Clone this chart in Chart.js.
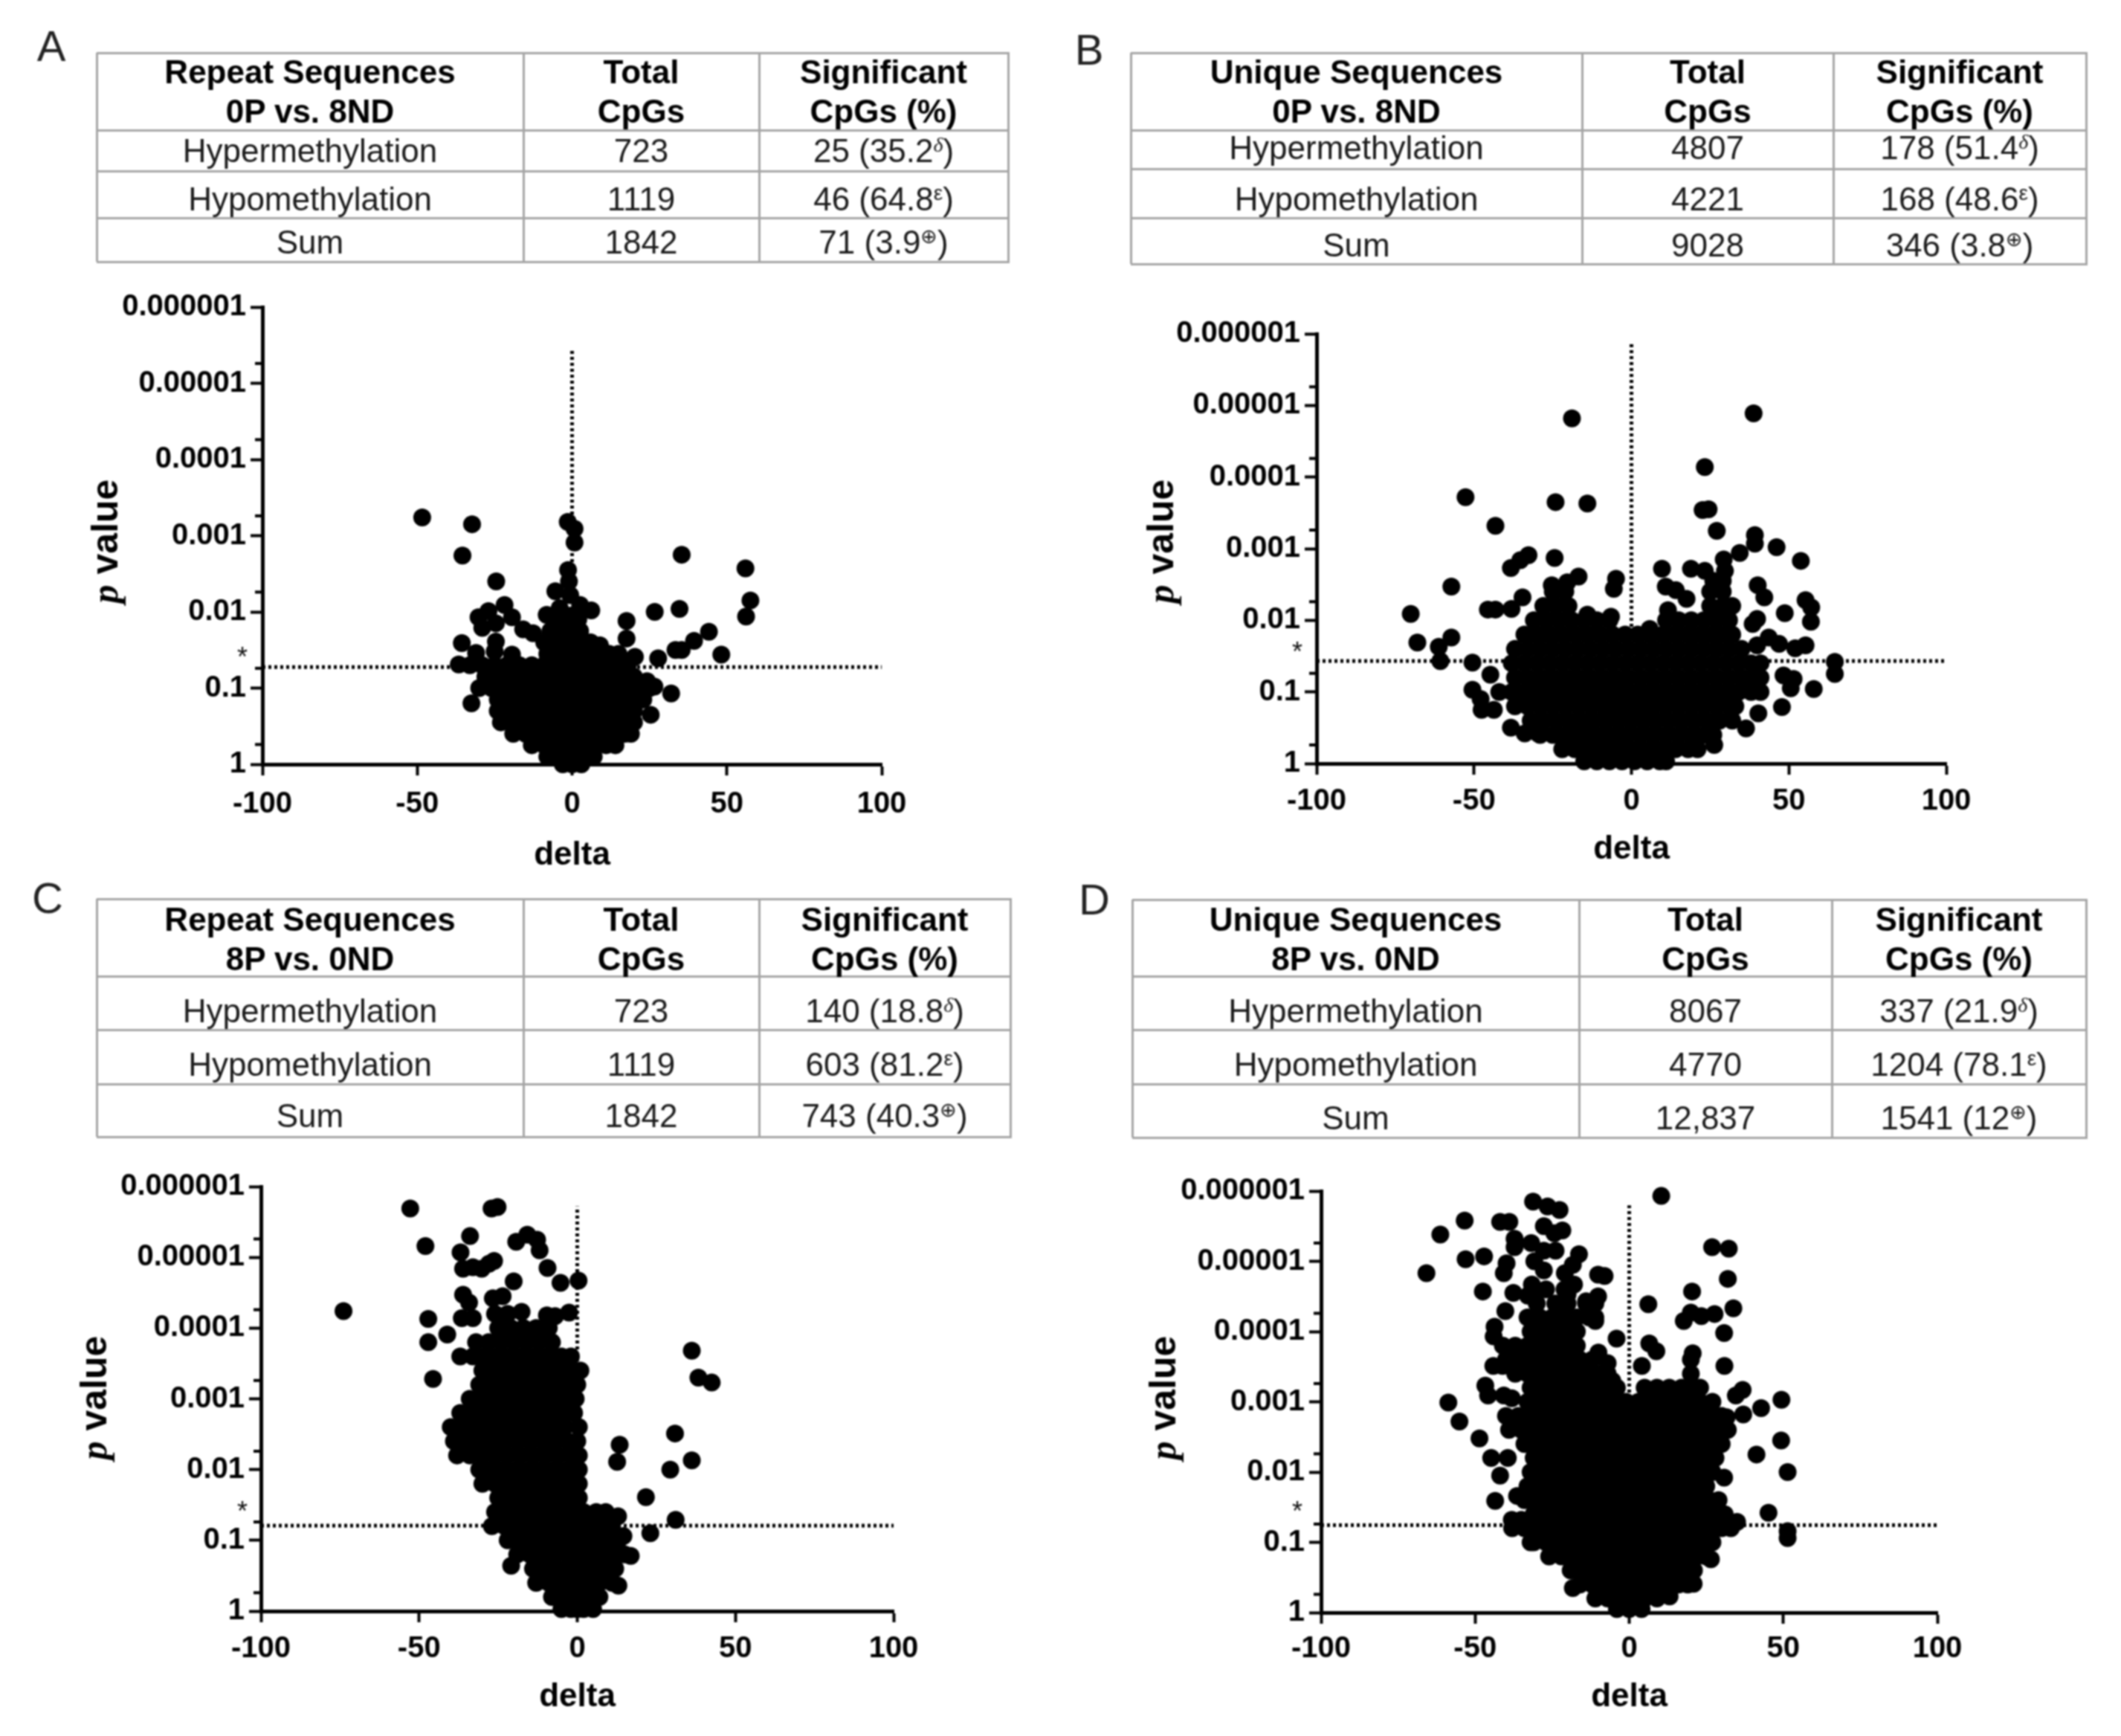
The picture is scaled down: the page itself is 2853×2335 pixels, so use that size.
<!DOCTYPE html>
<html><head><meta charset="utf-8">
<style>
html,body{margin:0;padding:0;background:#fff;width:2853px;height:2335px;overflow:hidden}
#page{position:absolute;left:0;top:0;width:2853px;height:2335px;filter:blur(1.3px);font-family:"Liberation Sans",Arial,sans-serif;color:#1a1a1a}
#page canvas{position:absolute}
.t{position:absolute;white-space:nowrap;transform:translate(-50%,-50%);line-height:1}
.r{position:absolute;background:#a5a5a5}
.b{font-weight:bold;color:#000}
sup{font-size:28px;line-height:0;vertical-align:baseline;position:relative;top:-14px}
.ser{font-family:"Liberation Serif",serif;font-style:italic}
.opl{font-family:"DejaVu Sans",sans-serif;font-size:27px}
</style></head><body><div id="page"></div>
<script src="https://cdn.jsdelivr.net/npm/chart.js@4"></script>
<script>
// ---------- tick labels ----------
const xTicks=[-100,-50,0,50,100];
const pTicks=[1,0.1,0.01,0.001,0.0001,0.00001,0.000001];
const pTickLabels=['1','0.1','0.01','0.001','0.0001','0.00001','0.000001'];
const pMinorTicks=[0.55,0.055,0.0055,0.00055,0.000055,0.0000055];
// ---------- table text ----------
const rowNames=['Hypermethylation','Hypomethylation','Sum'];
const colTotal=['Total','CpGs'];
const colSig=['Significant','CpGs (%)'];
const marks=['δ','ε','⊕'];
const A_head=['Repeat Sequences','0P vs. 8ND'];
const A_total=['723','1119','1842'];
const A_sig=['25 (35.2','46 (64.8','71 (3.9'];
const B_head=['Unique Sequences','0P vs. 8ND'];
const B_total=['4807','4221','9028'];
const B_sig=['178 (51.4','168 (48.6','346 (3.8'];
const C_head=['Repeat Sequences','8P vs. 0ND'];
const C_total=['723','1119','1842'];
const C_sig=['140 (18.8','603 (81.2','743 (40.3'];
const D_head=['Unique Sequences','8P vs. 0ND'];
const D_total=['8067','4770','12,837'];
const D_sig=['337 (21.9','1204 (78.1','1541 (12'];
// ---------- significance cut and vertical guide top (p values) ----------
const A_cut=0.053, A_guideTop=0.0000035;
const B_cut=0.037, B_guideTop=0.0000013;
const C_cut=0.062, C_guideTop=0.0000019;
const D_cut=0.057, D_guideTop=0.0000016;
// ---------- points: [delta, -log10 p] ----------
const A_points=[[-48.4,3.24],[-32.3,3.15],[-35.4,2.74],[-24.5,2.4],[-1.4,3.18],[0.8,3.09],[0.8,2.91],[35.4,2.75],[56,2.57],[57.6,2.15],[56.2,1.94],[26.7,2],[34.7,2.04],[44.2,1.74],[39.4,1.62],[33.4,1.5],[35.4,1.5],[27.8,1.39],[48.2,1.44],[32,0.93],[25.4,0.65],[-32.5,0.8],[-21.8,2.09],[-30.2,1.93],[-27,2.01],[-29,1.79],[-19.4,1.93],[-24.6,1.85],[-35.6,1.59],[-24.6,1.61],[-25,1.48],[-31,1.46],[-36.6,1.31],[-19.4,1.44],[-15.8,1.77],[-12.6,1.72],[-8.2,1.96],[-5.4,2.27],[-1.3,2.55],[-1,2.4],[-0.6,2.22],[6.2,2.02],[2.6,2.09],[2.6,1.75],[9,1.56],[17.6,1.88],[17.6,1.65],[20.3,1.41],[24.2,1.09],[26.6,1.02],[-4,2.05],[-1,1.95]];
const A_rows=[
[0,-3,0,3],
[0.1,-8,-4,0,4,7],
[0.25,-13,-9,-5,-1,3,7,11,14],
[0.4,-19,-15,-11,-7,-3,1,5,9,13,17,19],
[0.55,-23,-19,-15,-11,-7,-3,1,5,9,13,17,20],
[0.7,-24,-20,-16,-12,-8,-4,0,4,8,12,16,20],
[0.85,-24,-20,-16,-12,-8,-4,0,4,8,12,16,20,23],
[1,-30,-26,-22,-18,-14,-10,-6,-2,2,6,10,14,18,22,25],
[1.15,-28,-24,-20,-16,-12,-8,-4,0,4,8,12,16,20],
[1.3,-33,-29,-25,-21,-17,-13,-9,-5,-1,3,7,11,15,18],
[1.45,-8,-4,0,4,8,12,15],
[1.6,-9,-5,-1,3,6],
[1.75,-7,-3,1],
[1.9,-5,-1,2]];
const B_points=[[-18.9,4.82],[38.8,4.89],[23.3,4.14],[-52.7,3.72],[-24.1,3.65],[-14,3.63],[-43.2,3.32],[22.6,3.54],[24.5,3.55],[27.1,3.25],[39.2,3.19],[39.2,3.07],[46.1,3.02],[34.4,2.94],[53.8,2.83],[-24.4,2.87],[-32.7,2.91],[-35.3,2.84],[-38.3,2.73],[29.3,2.85],[29.7,2.69],[9.7,2.72],[18.9,2.72],[23.3,2.69],[-4.9,2.58],[-5.6,2.44],[-16.8,2.61],[-20.4,2.53],[-25.3,2.49],[-57.2,2.47],[10.9,2.47],[14.1,2.42],[17.5,2.3],[40.1,2.49],[42.2,2.32],[55.3,2.28],[57.1,2.18],[57,1.98],[48.7,2.1],[39.9,2.02],[38.5,1.95],[-70.1,2.09],[-68,1.69],[-57.2,1.76],[-61.2,1.63],[-60.7,1.43],[-50.5,1.41],[-44.8,1.24],[-34.6,2.32],[-38.1,2.16],[-45.6,2.15],[-43.2,2.15],[-50.5,1.03],[-47.6,0.75],[-43.7,0.75],[-47.9,0.9],[-38.3,0.5],[-33.9,0.42],[-29.7,0.42],[64.6,1.42],[64.6,1.25],[57.9,1.04],[50.6,1.05],[51.5,1.18],[48.3,1.23],[47.8,0.79],[40.3,0.7],[36.4,0.49],[55.3,1.65],[52,1.61],[46.9,1.67],[43.6,1.76],[39.9,1.65],[26.3,0.26],[5.8,1.88],[-14,2.08],[-6.5,2.05],[11.6,2.14]];
const B_rows=[
[0.03,-15,-11,-7,-3,1,5,9,11],
[0.2,-22,-18,-14,-10,-6,-2,2,6,10,14,18,21],
[0.4,-29,-25,-21,-17,-13,-9,-5,-1,3,7,11,15,19,23,26],
[0.6,-32,-28,-24,-20,-16,-12,-8,-4,0,4,8,12,16,20,24,28,32],
[0.8,-37,-33,-29,-25,-21,-17,-13,-9,-5,-1,3,7,11,15,19,23,27,31,33],
[1,-42,-38,-34,-30,-26,-22,-18,-14,-10,-6,-2,2,6,10,14,18,22,26,30,34,38,41],
[1.2,-37,-33,-29,-25,-21,-17,-13,-9,-5,-1,3,7,11,15,19,23,27,31,35,39,41],
[1.4,-38,-34,-30,-26,-22,-18,-14,-10,-6,-2,2,6,10,14,18,22,26,30,34,38,41],
[1.6,-37,-33,-29,-25,-21,-17,-13,-9,-5,-1,3,7,11,15,19,23,27,31,35],
[1.8,-34,-30,-26,-22,-18,-14,-10,-6,-2,2,6,10,14,18,22,26,30,32],
[2,-31,-27,-23,-19,-15,-11,-7,11,15,19,23,27,31],
[2.2,-28,-24,-20,25,29,32],
[2.4,-25,-21,25,29],
[2.55,26,29]];
const C_points=[[-73.9,4.24],[-52.8,5.69],[-48,5.16],[-27.1,5.69],[-25.2,5.71],[-33.9,5.3],[-36.9,5.07],[-36.1,4.84],[-33,4.86],[-30.2,4.84],[-27.9,4.91],[-26.3,4.95],[-19.3,5.22],[-15.8,5.32],[-12.7,5.25],[-11.9,5.1],[-9.4,4.85],[-5.3,4.64],[0.4,4.67],[-20.1,4.66],[-36.1,4.47],[-34.2,4.36],[-36.5,4.14],[-33,4.14],[-47.1,4.13],[-47.1,3.8],[-41.1,3.91],[-45.6,3.28],[-26.7,4.42],[-23.6,4.45],[-17.6,4.23],[-9.6,4.18],[-2.6,4.22],[-7,4.17],[36.2,3.68],[38.3,3.3],[42.5,3.23],[30.9,2.51],[13.4,2.35],[12.6,2.11],[36.2,2.13],[29.4,2],[21.7,1.61],[31.1,1.29],[23.1,1.1],[7.6,1.37],[12.9,1.34],[14.6,1.06],[16.9,0.78],[13,0.36],[-20.9,0.64]];
const C_rows=[
[0.03,-5,-2,0,2,5],
[0.2,-8,-4,0,4,7],
[0.4,-13,-9,-5,-1,3,7,11],
[0.6,-14,-10,-6,-2,2,6,10,12],
[0.8,-19,-15,-11,-7,-3,1,5,9,13,15],
[1,-22,-18,-14,-10,-6,-2,2,6,10,13],
[1.2,-27,-23,-19,-15,-11,-7,-3,1,5,9,11],
[1.4,-26,-22,-18,-14,-10,-6,-2,2,6,9],
[1.6,-25,-21,-17,-13,-9,-5,-1,0.5],
[1.8,-30,-26,-22,-18,-14,-10,-6,-2,0.5],
[2,-31,-27,-23,-19,-15,-11,-7,-3,0.5],
[2.2,-38,-34,-30,-26,-22,-18,-14,-10,-6,-2,0.5],
[2.4,-39,-35,-31,-27,-23,-19,-15,-11,-7,-3,0],
[2.6,-40,-36,-32,-28,-24,-20,-16,-12,-8,-4,0.5],
[2.8,-37,-33,-29,-25,-21,-17,-13,-9,-5,-1],
[3,-34,-30,-26,-22,-18,-14,-10,-6,-2,-0.5],
[3.2,-31,-27,-23,-19,-15,-11,-7,-3,0],
[3.4,-30,-26,-22,-18,-14,-10,-6,-2,1],
[3.6,-37,-33,-29,-25,-21,-17,-13,-9,-5,-2],
[3.8,-32,-28,-24,-20,-16,-12,-8],
[4,-25,-21,-17,-13,-9],
[4.2,-26,-22]];
const D_points=[[10.4,5.93],[-31.2,5.85],[-26.5,5.78],[-22.6,5.73],[-53.4,5.58],[-61.3,5.38],[-65.8,4.83],[-53.1,5.03],[-47.1,5.07],[-41.9,5.56],[-38.9,5.56],[-27.7,5.5],[-24.3,5.4],[-21.7,5.44],[-37.2,5.32],[-37.2,5.2],[-31.8,5.26],[-23.9,5.15],[-27.7,5.15],[-30.8,5],[-16.3,5.1],[-18.3,4.95],[-20.9,4.83],[-17.9,4.67],[-20,4.53],[-39.8,4.97],[-40.7,4.83],[-27.7,4.87],[-31.6,4.67],[-37.6,4.55],[-32.9,4.51],[-10.1,4.81],[-8,4.79],[-10.1,4.5],[-14,4.43],[-11,4.15],[-47.5,4.57],[-40.2,4.29],[-43.7,4.07],[-44,3.93],[-4.1,3.9],[6.2,4.39],[6.5,3.83],[8.8,3.72],[4.1,3.51],[26.9,5.2],[32.3,5.18],[32,4.75],[20.4,4.57],[33.8,4.33],[27.7,4.25],[23.4,4.22],[20,4.27],[17.7,4.15],[30.8,3.98],[30.9,3.51],[20.6,3.69],[36.8,3.17],[34.6,3.09],[49.4,3.03],[42.8,2.91],[37,2.82],[31.6,2.78],[49.3,2.45],[41.3,2.25],[51.4,2],[30.8,1.92],[45.2,1.42],[51.4,1.16],[51.4,1.06],[-58.7,2.99],[-55.1,2.72],[-48.6,2.48],[-44.8,2.2],[-39.4,2.2],[-41.9,1.95],[-43.5,1.59],[-46.7,3.23],[-45.8,3.09],[-40.7,3.09],[-38.1,3.05],[-44.1,3.51],[-41.1,3.51],[-36.4,1.66],[-38.1,1.32],[-35,1.32],[35,1.29],[-32,1],[-18.3,0.35],[20.9,0.41],[13.1,0.23],[26.5,0.76],[-7,3.55],[-10,3.7],[-5.5,3.3]];
const D_rows=[
[0.05,-4,0,4],
[0.2,-11,-7,-3,1,5,9],
[0.4,-16,-12,-8,-4,0,4,8,12,16,19],
[0.6,-19,-15,-11,-7,-3,1,5,9,13,17,21],
[0.8,-26,-22,-18,-14,-10,-6,-2,2,6,10,14,18,22,25],
[1,-31,-27,-23,-19,-15,-11,-7,-3,1,5,9,13,17,21,25,27],
[1.2,-38,-34,-30,-26,-22,-18,-14,-10,-6,-2,2,6,10,14,18,22,26,30,33],
[1.4,-31,-27,-23,-19,-15,-11,-7,-3,1,5,9,13,17,21,25,29,31],
[1.6,-34,-30,-26,-22,-18,-14,-10,-6,-2,2,6,10,14,18,22,26,29],
[1.8,-33,-29,-25,-21,-17,-13,-9,-5,-1,3,7,11,15,19,23,25],
[2,-32,-28,-24,-20,-16,-12,-8,-4,0,4,8,12,16,20,24,27],
[2.2,-31,-27,-23,-19,-15,-11,-7,-3,1,5,9,13,17,21,25,28],
[2.4,-34,-30,-26,-22,-18,-14,-10,-6,-2,2,6,10,14,18,22,26,30],
[2.6,-39,-35,-31,-27,-23,-19,-15,-11,-7,-3,1,5,9,13,17,21,25,29,32],
[2.8,-40,-36,-32,-28,-24,-20,-16,-12,-8,-4,0,4,8,12,16,20,24,28,30],
[3,-33,-29,-25,-21,-17,-13,-9,-5,-1,3,7,11,15,19,23,27],
[3.2,-32,-28,-24,-20,-16,-12,-8,-4,5,9,13,17,21,23],
[3.4,-37,-33,-29,-25,-21,-17,-13,-9,-7,20],
[3.6,-40,-36,-32,-28,-24,-20,-16,-12,20],
[3.8,-41,-37,-33,-29,-25,-21,-17],
[4,-32,-28,-24,-20,-17],
[4.2,-33,-29,-25,-21,-17,-13,-11],
[4.4,-30,-24,-20,-14,-11],
[4.6,-31,-27,-21]];
// ---------- layout ----------
const PAD_L=320,PAD_T=30,PAD_R=60;
const panels=[
 {k:'A',pts:A_points,rows:A_rows,cut:A_cut,top:A_guideTop,head:A_head,tot:A_total,sig:A_sig,
  x0:353,x1:1186,y0:413,y1:1028,titleGap:119,tickPad:15,letter:[69,62],ylab:[141,728],star:[326,884],
  tx:[130,704,1021,1356],ty:[71,175,230,293,352],hy:[97,150],ry:[203,268,326]},
 {k:'B',pts:B_points,rows:B_rows,cut:B_cut,top:B_guideTop,head:B_head,tot:B_total,sig:B_sig,
  x0:1771,x1:2618,y0:449,y1:1027,titleGap:112,tickPad:12,letter:[1465,67],ylab:[1561,728],star:[1745,877],
  tx:[1521,2128,2466,2806],ty:[71,175,227,293,355],hy:[97,150],ry:[199,268,330]},
 {k:'C',pts:C_points,rows:C_rows,cut:C_cut,top:C_guideTop,head:C_head,tot:C_total,sig:C_sig,
  x0:351,x1:1202,y0:1596,y1:2167,titleGap:112,tickPad:12,letter:[64,1208],ylab:[126,1880],star:[326,2033],
  tx:[130,704,1021,1359],ty:[1209,1313,1385,1458,1529],hy:[1237,1290],ry:[1360,1432,1501]},
 {k:'D',pts:D_points,rows:D_rows,cut:D_cut,top:D_guideTop,head:D_head,tot:D_total,sig:D_sig,
  x0:1777,x1:2606,y0:1602,y1:2169,titleGap:110,tickPad:10,letter:[1472,1210],ylab:[1564,1880],star:[1745,2033],
  tx:[1523,2124,2464,2806],ty:[1210,1313,1385,1458,1530],hy:[1237,1290],ry:[1360,1432,1504]}
];
const page=document.getElementById('page');
function text(x,y,html,size,cls,extra){
  const d=document.createElement('div');d.className='t '+(cls||'');
  d.style.left=x+'px';d.style.top=y+'px';d.style.fontSize=size+'px';
  d.innerHTML=html;if(extra)d.style.cssText+=extra;page.appendChild(d);return d;
}
function rule(x,y,w,h){
  const d=document.createElement('div');d.className='r';
  d.style.cssText+=`left:${x}px;top:${y}px;width:${w}px;height:${h}px`;page.appendChild(d);
}
const minorTickPlugin={id:'minorTicks',afterDraw(chart){
  const s=chart.scales.y,c=chart.ctx,x=s.right;
  c.save();c.strokeStyle='#000';c.lineWidth=4;
  pMinorTicks.forEach(v=>{const y=s.getPixelForValue(v);c.beginPath();c.moveTo(x-10,y);c.lineTo(x,y);c.stroke();});
  c.restore();
}};
panels.forEach(P=>{
  text(P.letter[0],P.letter[1],P.k,58,'','color:#222');
  const [a,b,c,d]=P.tx;
  P.ty.forEach(y=>rule(a,y-1,d-a+2,2.5));
  P.tx.forEach(x=>rule(x-1,P.ty[0],2.5,P.ty[4]-P.ty[0]));
  const cx=[(a+b)/2,(b+c)/2,(c+d)/2];
  [P.head,colTotal,colSig].forEach((h,i)=>h.forEach((s,j)=>text(cx[i],P.hy[j],s,44,'b')));
  rowNames.forEach((n,r)=>{
    text(cx[0],P.ry[r],n,44);
    text(cx[1],P.ry[r],P.tot[r],44);
    const cls=r==0?' class="ser"':(r==2?' class="opl"':'');
    text(cx[2],P.ry[r],P.sig[r]+'<sup'+cls+'>'+marks[r]+'</sup>)',44);
  });
  text(P.ylab[0],P.ylab[1],'<span class="ser" style="font-weight:bold">p</span> value',50,'b','transform:translate(-50%,-50%) rotate(-90deg)');
  text(P.star[0],P.star[1],'*',36,'','color:#111');
  const cv=document.createElement('canvas');
  const W=PAD_L+(P.x1-P.x0)+PAD_R, H=PAD_T+(P.y1-P.y0)+P.titleGap+30;
  cv.width=W;cv.height=H;
  cv.style.left=(P.x0-PAD_L)+'px';cv.style.top=(P.y0-PAD_T)+'px';
  cv.style.width=W+'px';cv.style.height=H+'px';
  page.appendChild(cv);
  const data=P.rows.flatMap(r=>r.slice(1).map(v=>({x:v,y:Math.pow(10,-r[0])})))
    .concat(P.pts.map(q=>({x:q[0],y:Math.pow(10,-q[1])})));
  new Chart(cv.getContext('2d'),{
    type:'scatter',
    plugins:[minorTickPlugin],
    data:{datasets:[
      {data,order:0,pointRadius:12,pointBackgroundColor:'#000',pointBorderWidth:0,clip:false,showLine:false},
      {data:[{x:-100,y:P.cut},{x:100,y:P.cut}],order:1,showLine:true,pointRadius:0,borderColor:'#000',borderWidth:5,borderDash:[4,4],clip:false},
      {data:[{x:0,y:1},{x:0,y:P.top}],order:1,showLine:true,pointRadius:0,borderColor:'#000',borderWidth:5,borderDash:[4,4],clip:false}
    ]},
    options:{
      responsive:false,animation:false,devicePixelRatio:1,
      layout:{padding:{left:0,top:PAD_T,right:PAD_R,bottom:0}},
      plugins:{legend:{display:false},tooltip:{enabled:false}},
      scales:{
        x:{type:'linear',min:xTicks[0],max:xTicks[4],
          afterBuildTicks:s=>{s.ticks=xTicks.map(v=>({value:v}));},
          afterFit:s=>{s.height=P.titleGap+30;},
          border:{display:true,width:5,color:'#000'},
          grid:{drawOnChartArea:false,drawTicks:true,tickLength:15,tickWidth:4,tickColor:'#000'},
          ticks:{autoSkip:false,maxRotation:0,padding:P.tickPad,color:'#000',font:{family:'Liberation Sans',weight:'bold',size:40}},
          title:{display:true,text:'delta',color:'#000',padding:{top:0,bottom:0},font:{family:'Liberation Sans',weight:'bold',size:44}}
        },
        y:{type:'logarithmic',reverse:true,min:pTicks[6],max:pTicks[0],
          afterBuildTicks:s=>{s.ticks=pTicks.map(v=>({value:v,major:true}));},
          afterFit:s=>{s.width=PAD_L;},
          border:{display:true,width:5,color:'#000'},
          grid:{drawOnChartArea:false,drawTicks:true,tickLength:16,tickWidth:4,tickColor:'#000'},
          ticks:{autoSkip:false,padding:6,color:'#000',font:{family:'Liberation Sans',weight:'bold',size:40},
            callback:(v,i)=>pTickLabels[i]}
        }
      }
    }
  });
});
</script></body></html>
